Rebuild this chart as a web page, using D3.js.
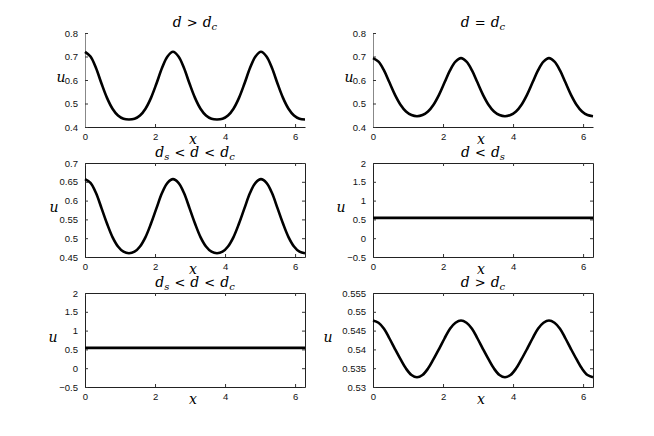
<!DOCTYPE html>
<html><head><meta charset="utf-8">
<script src="https://cdn.jsdelivr.net/npm/d3@7"></script>
<style>body{margin:0;background:#fff}svg{display:block}</style>
</head><body>
<svg id="c" width="654" height="436"></svg>
<script>
// x grid (0 .. 2*pi)
const xs = [0,0.1571,0.3142,0.4712,0.6283,0.7854,0.9425,1.0996,1.2566,1.4137,1.5708,1.7279,1.8850,2.0420,2.1991,2.3562,2.5133,2.6704,2.8274,2.9845,3.1416,3.2987,3.4558,3.6128,3.7699,3.9270,4.0841,4.2412,4.3982,4.5553,4.7124,4.8695,5.0265,5.1836,5.3407,5.4978,5.6549,5.8119,5.9690,6.1261,6.2832];
const xTicks = [0,2,4,6];

// panel 1: d > d_c
const u1 = [0.720,0.700,0.651,0.585,0.524,0.478,0.449,0.435,0.432,0.435,0.449,0.478,0.524,0.585,0.651,0.700,0.720,0.700,0.651,0.585,0.524,0.478,0.449,0.435,0.432,0.435,0.449,0.478,0.524,0.585,0.651,0.700,0.720,0.700,0.651,0.585,0.524,0.478,0.449,0.435,0.432];
// panel 2: d = d_c
const u2 = [0.693,0.678,0.641,0.589,0.537,0.495,0.466,0.451,0.446,0.451,0.466,0.495,0.537,0.589,0.641,0.678,0.693,0.678,0.641,0.589,0.537,0.495,0.466,0.451,0.446,0.451,0.466,0.495,0.537,0.589,0.641,0.678,0.693,0.678,0.641,0.589,0.537,0.495,0.466,0.451,0.446];
// panel 3: d_s < d < d_c
const u3 = [0.657,0.647,0.620,0.580,0.539,0.503,0.478,0.464,0.460,0.464,0.478,0.503,0.539,0.580,0.620,0.647,0.657,0.647,0.620,0.580,0.539,0.503,0.478,0.464,0.460,0.464,0.478,0.503,0.539,0.580,0.620,0.647,0.657,0.647,0.620,0.580,0.539,0.503,0.478,0.464,0.460];
// panel 4: d < d_s
const u4 = [0.54,0.54,0.54,0.54,0.54,0.54,0.54,0.54,0.54,0.54,0.54,0.54,0.54,0.54,0.54,0.54,0.54,0.54,0.54,0.54,0.54,0.54,0.54,0.54,0.54,0.54,0.54,0.54,0.54,0.54,0.54,0.54,0.54,0.54,0.54,0.54,0.54,0.54,0.54,0.54,0.54];
// panel 5: d_s < d < d_c
const u5 = [0.54,0.54,0.54,0.54,0.54,0.54,0.54,0.54,0.54,0.54,0.54,0.54,0.54,0.54,0.54,0.54,0.54,0.54,0.54,0.54,0.54,0.54,0.54,0.54,0.54,0.54,0.54,0.54,0.54,0.54,0.54,0.54,0.54,0.54,0.54,0.54,0.54,0.54,0.54,0.54,0.54];
// panel 6: d > d_c
const u6 = [0.5477,0.5471,0.5455,0.5429,0.5401,0.5374,0.5349,0.5332,0.5326,0.5332,0.5349,0.5374,0.5401,0.5429,0.5455,0.5471,0.5477,0.5471,0.5455,0.5429,0.5401,0.5374,0.5349,0.5332,0.5326,0.5332,0.5349,0.5374,0.5401,0.5429,0.5455,0.5471,0.5477,0.5471,0.5455,0.5429,0.5401,0.5374,0.5349,0.5332,0.5326];

const yTicks1 = [0.4,0.5,0.6,0.7,0.8];
const yTicks2 = [0.4,0.5,0.6,0.7,0.8];
const yTicks3 = [0.45,0.5,0.55,0.6,0.65,0.7];
const yTicks4 = [-0.5,0,0.5,1,1.5,2];
const yTicks5 = [-0.5,0,0.5,1,1.5,2];
const yTicks6 = [0.53,0.535,0.54,0.545,0.55,0.555];

// titles: [text, subscript, italic?]
const title1 = [["d","",1],[">","",0],["d","c",1]];
const title2 = [["d","",1],["=","",0],["d","c",1]];
const title3 = [["d","s",1],["<","",0],["d","",1],["<","",0],["d","c",1]];
const title4 = [["d","",1],["<","",0],["d","s",1]];
const title5 = [["d","s",1],["<","",0],["d","",1],["<","",0],["d","c",1]];
const title6 = [["d","",1],[">","",0],["d","c",1]];

const panels = [
  {u:u1, yt:yTicks1, title:title1, col:0, row:0, box:false, ylx:24},
  {u:u2, yt:yTicks2, title:title2, col:1, row:0, box:false, ylx:24},
  {u:u3, yt:yTicks3, title:title3, col:0, row:1, box:true, ylx:31},
  {u:u4, yt:yTicks4, title:title4, col:1, row:1, box:true, ylx:32},
  {u:u5, yt:yTicks5, title:title5, col:0, row:2, box:true, ylx:32},
  {u:u6, yt:yTicks6, title:title6, col:1, row:2, box:true, ylx:45}
];

const colX = [85, 373], W = 220, rowY = [33, 163, 293], H = 94;
const svg = d3.select("#c");
const fmt = v => (v < 0 ? "\u2212" : "") + String(Math.abs(v));
const tickFont = "Liberation Sans, Arial, Helvetica, sans-serif";
const mathFont = "DejaVu Serif, serif";

panels.forEach(p => {
  const x0 = colX[p.col], y0 = rowY[p.row];
  const g = svg.append("g").attr("transform", `translate(${x0},${y0})`);
  const x = d3.scaleLinear().domain([0, 2*Math.PI]).range([0, W]);
  const y = d3.scaleLinear().domain([p.yt[0], p.yt[p.yt.length-1]]).range([H, 0]);

  // axes with inward ticks
  const ax = d3.axisBottom(x).tickValues(xTicks).tickSizeInner(-3).tickSizeOuter(0).tickPadding(6).tickFormat(fmt);
  const ay = d3.axisLeft(y).tickValues(p.yt).tickSizeInner(-3).tickSizeOuter(0).tickPadding(7).tickFormat(fmt);
  const gx = g.append("g").attr("transform", `translate(0,${H})`).call(ax);
  const gy = g.append("g").call(ay);
  [gx, gy].forEach(a => {
    a.selectAll("text").attr("font-family", tickFont).attr("font-size", 9.5).attr("fill", "#111");
    a.selectAll("line").attr("stroke", "#333");
    a.select(".domain").attr("stroke", "#222");
  });
  gx.selectAll("text").attr("dy", "0.71em");
  if (!p.box) gy.select(".domain").attr("stroke", "#888");

  if (p.box) {
    const axT = d3.axisTop(x).tickValues(xTicks).tickSizeInner(-3).tickSizeOuter(0).tickFormat("");
    const ayR = d3.axisRight(y).tickValues(p.yt).tickSizeInner(-3).tickSizeOuter(0).tickFormat("");
    const gt = g.append("g").call(axT);
    const gr = g.append("g").attr("transform", `translate(${W},0)`).call(ayR);
    [gt, gr].forEach(a => {
      a.selectAll("text").remove();
      a.selectAll("line").attr("stroke", "#333");
      a.select(".domain").attr("stroke", "#222");
    });
  }

  // curve
  const line = d3.line().x((d,i) => x(xs[i])).y(d => y(d)).curve(d3.curveCatmullRom.alpha(0.5));
  g.append("path").datum(p.u).attr("d", line).attr("fill", "none")
    .attr("stroke", "#000").attr("stroke-width", 2.6).attr("stroke-linejoin", "round");

  // title
  const t = g.append("text").attr("x", W/2).attr("y", -6).attr("text-anchor", "middle")
    .attr("font-family", mathFont).attr("font-size", 14).attr("fill", "#000");
  let pendingDy = 0;
  p.title.forEach((seg, i) => {
    const ts = t.append("tspan").text(seg[0])
      .attr("font-style", seg[2] ? "italic" : "normal")
      .attr("font-size", seg[2] ? 14 : 13);
    if (i > 0) ts.attr("dx", 5);
    if (pendingDy) { ts.attr("dy", pendingDy); pendingDy = 0; }
    if (seg[1]) {
      t.append("tspan").text(seg[1]).attr("font-style", "italic").attr("font-size", 10).attr("dy", 3);
      pendingDy = -3;
    }
  });

  // axis labels
  g.append("text").attr("x", W/2 - 2).attr("y", H + 17).attr("text-anchor", "middle")
    .attr("font-family", mathFont).attr("font-style", "italic").attr("font-size", 14).text("x");
  g.append("text").attr("x", -p.ylx).attr("y", H/2 + 1.5).attr("text-anchor", "middle")
    .attr("font-family", mathFont).attr("font-style", "italic").attr("font-size", 14).text("u");
});
</script>
</body></html>
